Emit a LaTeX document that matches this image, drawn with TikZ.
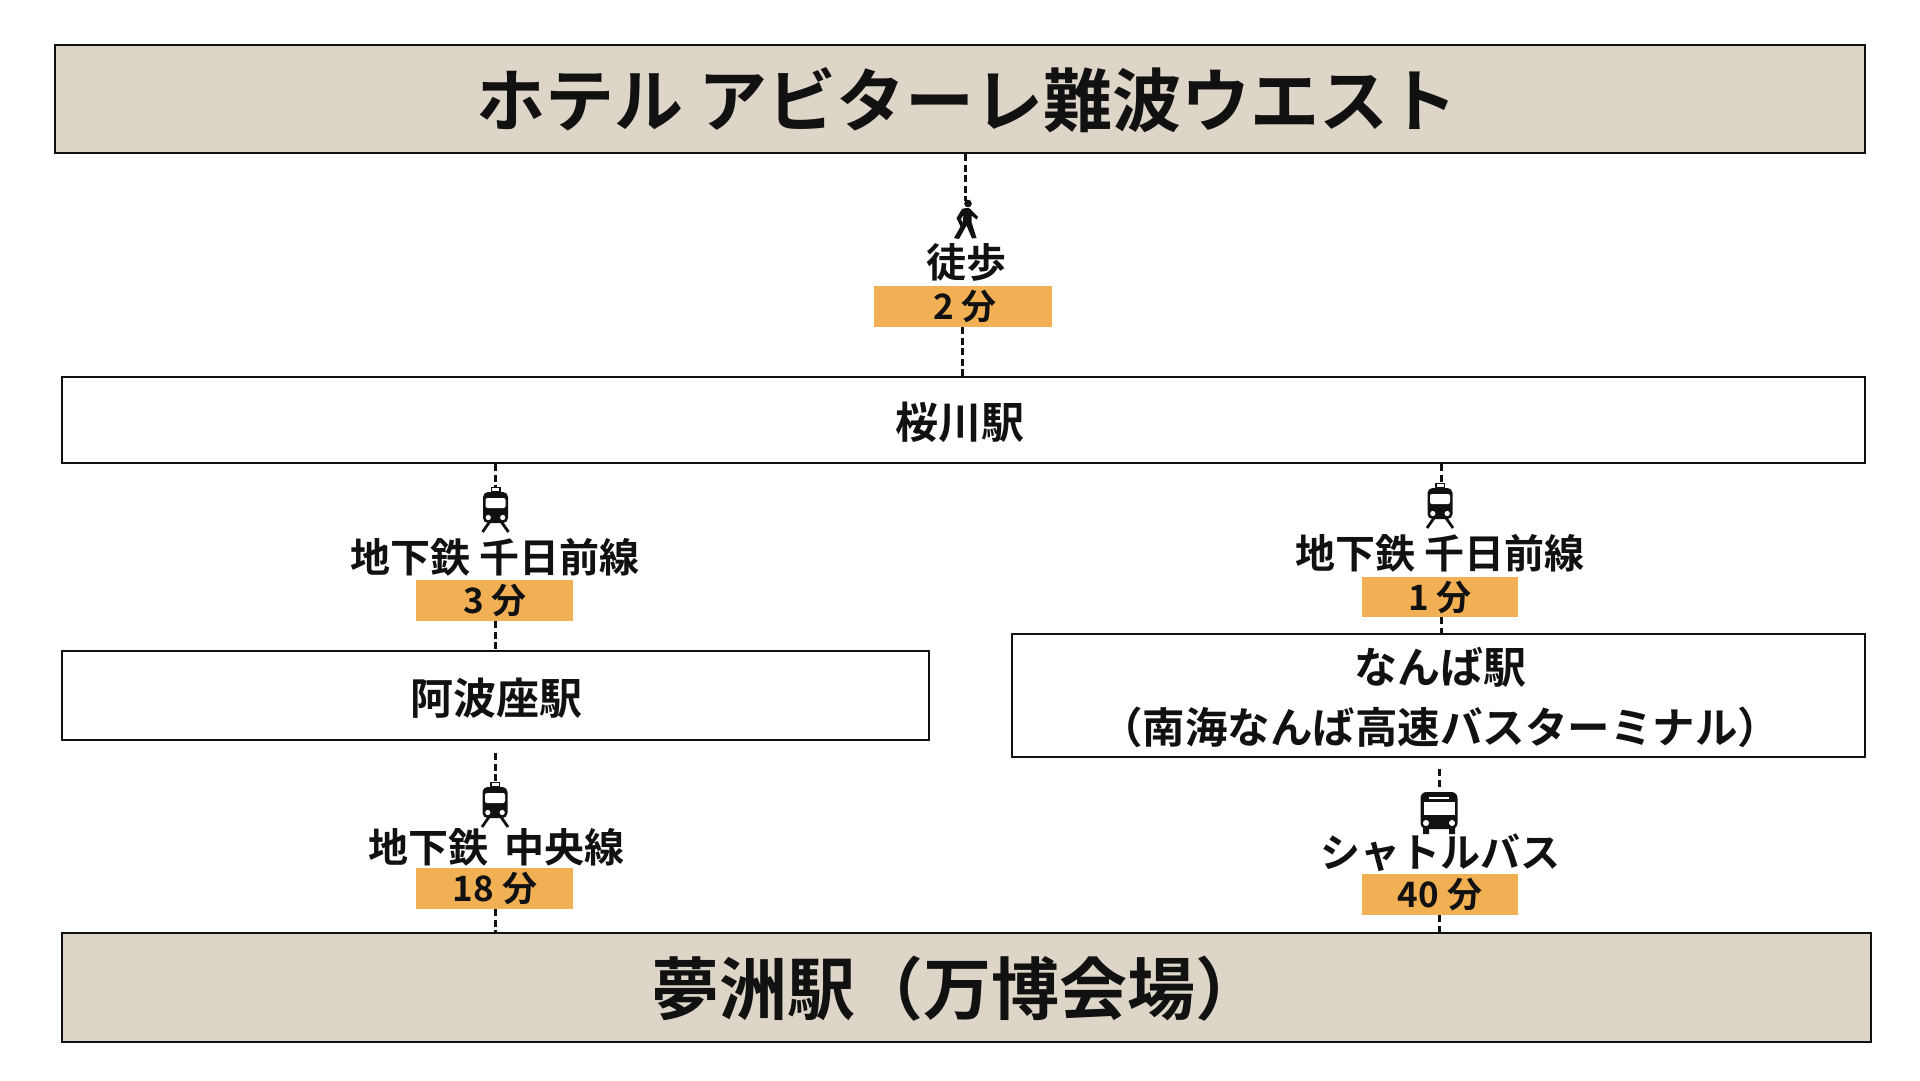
\documentclass[tikz,border=0pt]{standalone}
\usepackage{fontspec}
\newfontfamily\jpfont[BoldFont={Noto Sans CJK JP Bold}]{Noto Sans CJK JP}
\definecolor{beige}{HTML}{DDD5C7}
\definecolor{amber}{HTML}{F2B054}
\definecolor{ink}{HTML}{111111}
\tikzset{
  bigbox/.style={draw=ink,line width=2.4pt,fill=beige,inner sep=0pt},
  plainbox/.style={draw=ink,line width=2.2pt,fill=white,inner sep=0pt},
  timebox/.style={fill=amber,inner sep=0pt},
  lbl/.style={text=ink,inner sep=0pt,font=\jpfont\bfseries\fontsize{#1}{#1}\selectfont,align=center},
  lbl/.default=38pt,
  conn/.style={draw=ink,line width=3pt,dash pattern=on 7pt off 3.5pt},
  train/.pic={
    \fill[ink] (-5,-5) rectangle (5,0);
    \fill[white] (-3.5,-3.6) rectangle (3.5,-0.6);
    \fill[ink,rounded corners=5pt] (-12.5,0) rectangle (12.5,31);
    \fill[white,rounded corners=2pt] (-10,6) rectangle (10,16);
    \fill[white] (-7.2,25.5) circle (2.6) (7.2,25.5) circle (2.6);
    \draw[ink,line width=2.8pt] (-6,30) -- (-13,40) (6,30) -- (13,40);
  },
  buspic/.pic={
    \fill[ink,rounded corners=6pt] (-18.5,0) rectangle (18.5,37);
    \fill[ink] (-16,34) rectangle (-10,42) (10,34) rectangle (16,42);
    \fill[white] (-15.5,9.5) rectangle (15.5,23);
    \fill[white] (-10,5) rectangle (10,7);
    \fill[white] (-13,31) circle (3) (13,31) circle (3);
  },
  walker/.pic={
    \fill[ink] (3,3.5) circle (3.8);
    \fill[ink] (-3,9) .. controls (2,7) and (6,8) .. (7,11) -- (13,17) -- (11.5,19.5) -- (6.5,15.5) -- (6.5,22) -- (11.5,38) -- (7,38.5) -- (1.5,25.5) -- (-6,39) -- (-11,38) -- (-2.5,23) -- (-1.5,15) -- (-4,19) -- (-1.5,26) -- (-4,27.5) -- (-8.5,18) -- cycle;
  }
}
\begin{document}
\begin{tikzpicture}[x=1pt,y=-1pt]
\useasboundingbox (0,0) rectangle (1920,1080);
% boxes
\node[bigbox,minimum width=1810pt,minimum height=108pt] (hotel) at (960,99) {};
\node[plainbox,minimum width=1803pt,minimum height=86pt] (sakura) at (963.5,420) {};
\node[plainbox,minimum width=867pt,minimum height=89pt] (awaza) at (495.5,695.5) {};
\node[plainbox,minimum width=853pt,minimum height=123pt] (namba) at (1438.5,695.5) {};
\node[bigbox,minimum width=1809pt,minimum height=109pt] (yume) at (966.5,987.5) {};
% time boxes
\node[timebox,minimum width=178pt,minimum height=41pt] (t2) at (963,306.5) {};
\node[timebox,minimum width=157pt,minimum height=41pt] (t3) at (494.5,600.5) {};
\node[timebox,minimum width=156pt,minimum height=40pt] (t1) at (1440,597) {};
\node[timebox,minimum width=157pt,minimum height=41pt] (t18) at (494.5,888.5) {};
\node[timebox,minimum width=156pt,minimum height=41pt] (t40) at (1440,894.5) {};
% free ends of connectors
\coordinate (walkTop) at (965,201);
\coordinate (trainA) at (495,488);
\coordinate (trainB) at (1441,484);
\coordinate (trainC) at (495,784);
\coordinate (busTop) at (1439,787);
% connectors
\draw[conn] (hotel.south -| walkTop) -- (walkTop);
\draw[conn] (t2.south -| 962,0) -- (sakura.north -| 962,0);
\draw[conn] (sakura.south -| trainA) -- (trainA);
\draw[conn] (t3.south -| trainA) -- (awaza.north -| trainA);
\draw[conn] (awaza.south -| trainC) ++(0,12) -- (trainC);
\draw[conn] (t18.south -| trainC) -- (yume.north -| trainC);
\draw[conn] (sakura.south -| trainB) -- (trainB);
\draw[conn] (t1.south -| trainB) -- (namba.north -| trainB);
\draw[conn] (namba.south -| busTop) ++(0,11) -- (busTop);
\draw[conn] (t40.south -| busTop) -- (yume.north -| busTop);
% icons
\pic at (965,200) {walker};
\pic at (495.5,492) {train};
\pic at (1440,488) {train};
\pic at (495,787) {train};
\pic at (1439,792) {buspic};
% texts
\node[lbl=69pt] (tHotel) at (967,100) {ホテル アビターレ難波ウエスト};
\node[lbl=40pt] (tWalk) at (966,262) {徒歩};
\node[lbl=35pt] (tT2) at (965,306) {2 分};
\node[lbl=43pt] (tSak) at (960,422) {桜川駅};
\node[lbl=40pt] (tLineA) at (495,557) {地下鉄 千日前線};
\node[lbl=35pt] (tT3) at (495,600) {3 分};
\node[lbl=43pt] (tAwa) at (496,698) {阿波座駅};
\node[lbl=40pt] (tLineB) at (1440,553) {地下鉄 千日前線};
\node[lbl=35pt] (tT1) at (1440,597) {1 分};
\node[lbl=43pt] (tNam) at (1440,667) {なんば駅};
\node[lbl=42.5pt] (tNam2) at (1440,727) {\symbol{"FF08}南海なんば高速バスターミナル\symbol{"FF09}};
\node[lbl=40pt] (tLineC) at (496,847) {地下鉄\hspace{16pt}中央線};
\node[lbl=40pt] (tBus) at (1440,853) {シャトルバス};
\node[lbl=35pt] (tT18) at (495,888) {18 分};
\node[lbl=35pt] (tT40) at (1440,894) {40 分};
\node[lbl=68pt] (tYume) at (957,989) {夢洲駅\symbol{"FF08}万博会場\symbol{"FF09}};
\end{tikzpicture}
\end{document}
